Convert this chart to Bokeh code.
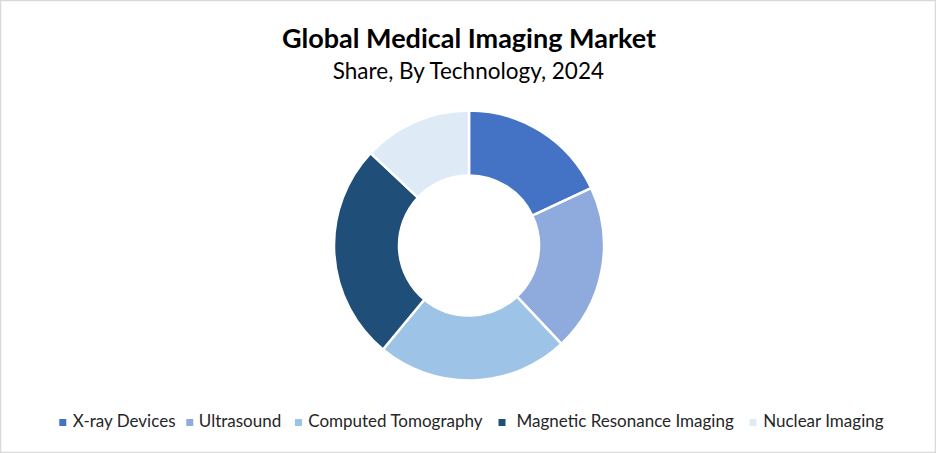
import numpy as np
from bokeh.plotting import figure
from bokeh.models import Range1d, ColumnDataSource
from bokeh.core.properties import value
from bokeh.embed import file_html
from bokeh.resources import INLINE

# ---- data ----
categories = ["X-ray Devices", "Ultrasound", "Computed Tomography",
              "Magnetic Resonance Imaging", "Nuclear Imaging"]
shares = [18.0, 20.0, 23.0, 26.0, 13.0]
colors = ["#4472C4", "#8FAADC", "#9DC3E6", "#1F4E79", "#DEEBF7"]
title_text = "Global Medical Imaging Market"
subtitle_text = "Share, By Technology, 2024"

# ---- layout ----
W, H = 936, 453
CX, CY = 468.5, 208.0
R_OUT, R_IN = 135, 70
legend_square_x = [62.3, 189.3, 298.0, 501.5, 752.5]
legend_text_x = [72.3, 198.3, 307.7, 516.0, 762.7]
legend_y_sq = 31
legend_y_txt = 33

FONT = "Lato"

p = figure(width=W, height=H, output_backend="svg", toolbar_location=None,
           x_range=Range1d(0, W), y_range=Range1d(0, H),
           min_border=0, min_border_left=0, min_border_right=0,
           min_border_top=0, min_border_bottom=0)
p.axis.visible = False
p.grid.visible = False
p.outline_line_color = "#D9D9D9"
p.outline_line_width = 1.5
p.background_fill_color = "white"
p.border_fill_color = "white"

frac = np.array(shares) / np.sum(shares)
cum_end = np.cumsum(frac)
cum_start = cum_end - frac
start_angle = np.pi / 2 - cum_end * 2 * np.pi
end_angle = np.pi / 2 - cum_start * 2 * np.pi

src = ColumnDataSource(dict(cat=categories, share=shares, color=colors,
                            start=start_angle, end=end_angle))
p.annular_wedge(x=CX, y=CY, inner_radius=R_IN, outer_radius=R_OUT,
                start_angle="start", end_angle="end", fill_color="color",
                line_color="white", line_width=2.5, source=src)

p.text(x=[CX], y=[416], text=[title_text], text_font=value(FONT),
       text_font_style="bold", text_font_size="27px", text_align="center",
       text_baseline="alphabetic", text_color="#000000")
p.text(x=[CX], y=[383], text=[subtitle_text], text_font=value(FONT),
       text_font_size="22.5px", text_align="center",
       text_baseline="alphabetic", text_color="#000000")

leg = ColumnDataSource(dict(sx=legend_square_x, tx=legend_text_x,
                            sy=[legend_y_sq] * len(categories),
                            ty=[legend_y_txt] * len(categories),
                            cat=categories, color=colors))
p.rect(x="sx", y="sy", width=7, height=7, fill_color="color",
       line_color=None, source=leg)
p.text(x="tx", y="ty", text="cat", text_font=value(FONT),
       text_font_size="17px", text_baseline="alphabetic",
       text_color="#262626", source=leg)

open("out.html", "w").write(file_html(p, INLINE))
